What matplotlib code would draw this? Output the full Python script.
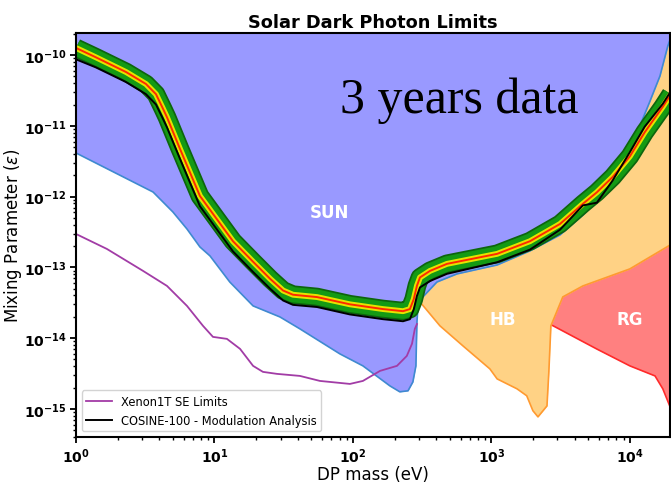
import math
import matplotlib.pyplot as plt
from matplotlib.ticker import FuncFormatter, FixedLocator, LogLocator

# COSINE-100 modulation analysis: expected (median) and observed limits
cosine_mass = [1.0, 1.39, 2.30, 3.20, 3.78, 4.25, 4.54, 5.64, 7.85, 13.6, 19.0, 25.2,
               31.3, 36.9, 55.0, 95.1, 165, 230, 258, 275, 290, 305, 360, 478, 1100,
               1900, 3130, 4580, 5780, 7530, 10000, 12800, 17300, 19800]
cosine_median = [1.26e-10, 9.3e-11, 5.75e-11, 3.9e-11, 2.8e-11, 1.74e-11, 1.32e-11,
                 4.7e-12, 1.02e-12, 2.34e-13, 1.2e-13, 6.9e-14, 4.7e-14, 4.1e-14,
                 3.8e-14, 3.0e-14, 2.57e-14, 2.4e-14, 2.57e-14, 3.55e-14, 5.5e-14,
                 7.2e-14, 8.9e-14, 1.12e-13, 1.55e-13, 2.34e-13, 4.1e-13, 7.9e-13,
                 1.15e-12, 1.9e-12, 3.7e-12, 8.1e-12, 1.86e-11, 2.8e-11]
cosine_observed = [8.7e-11, 6.7e-11, 4.15e-11, 2.8e-11, 2.0e-11, 1.25e-11, 9.5e-12,
                   3.4e-12, 7.3e-13, 1.68e-13, 8.6e-14, 5.0e-14, 3.4e-14, 2.95e-14,
                   2.75e-14, 2.16e-14, 1.85e-14, 1.73e-14, 1.85e-14, 2.55e-14, 3.95e-14,
                   5.2e-14, 6.4e-14, 8.1e-14, 1.18e-13, 1.78e-13, 3.4e-13, 7.5e-13,
                   8.2e-13, 1.7e-12, 4.25e-12, 9.7e-12, 2.05e-11, 3.1e-11]

# Solar bound (SUN)
sun_mass = [1.0, 3.60, 5.01, 6.33, 7.85, 9.28, 12.9, 19.0, 29.7, 41.4, 80.5, 118, 185,
            218, 250, 271, 285, 290, 295, 320, 404, 564, 1100, 1900, 3130, 4580, 6070,
            8050, 10000, 11800, 13900, 16500, 18800, 19800]
sun_eps = [4.13e-12, 1.16e-12, 6.05e-13, 3.48e-13, 1.94e-13, 1.45e-13, 6.2e-14, 2.85e-14,
           1.99e-14, 1.35e-14, 5.98e-15, 4.05e-15, 2.11e-15, 1.74e-15, 1.8e-15, 2.4e-15,
           4.05e-15, 1.69e-14, 2.85e-14, 3.82e-14, 6.2e-14, 8.07e-14, 1.08e-13, 1.71e-13,
           2.87e-13, 5.5e-13, 9.25e-13, 2.62e-12, 5.53e-12, 9.93e-12, 2.17e-11, 5.05e-11,
           1.34e-10, 1.79e-10]

# Xenon1T single-electron limits
xenon_mass = [1.0, 1.67, 3.05, 4.54, 6.33, 8.26, 9.75, 12.3, 15.3, 19.0, 22.4, 28.3,
              41.4, 57.8, 95.1, 118, 157, 208, 245, 267, 280, 290]
xenon_eps = [2.96e-13, 1.82e-13, 8.9e-14, 5.46e-14, 2.85e-14, 1.49e-14, 1.04e-14,
             9.75e-15, 7.04e-15, 4.05e-15, 3.33e-15, 3.12e-15, 2.92e-15, 2.48e-15,
             2.25e-15, 2.48e-15, 3.44e-15, 4.05e-15, 5.6e-15, 8.3e-15, 1.35e-14, 1.58e-14]

# Horizontal branch stars (HB)
hb_mass = [285, 305, 425, 623, 975, 1100, 1530, 1800, 1995, 2170, 2520, 2600, 2690,
           3280, 4580, 10000, 19800]
hb_eps = [5.5e-14, 3.24e-14, 1.49e-14, 7.76e-15, 3.67e-15, 2.65e-15, 1.92e-15, 1.53e-15,
          9.4e-16, 7.7e-16, 1.1e-15, 3.33e-15, 1.49e-14, 3.82e-14, 5.46e-14, 9.5e-14, 2.1e-13]

# Red giants (RG)
rg_mass = [2690, 5780, 10000, 15200, 17300, 19800]
rg_eps = [1.55e-14, 7.0e-15, 4.05e-15, 2.92e-15, 1.92e-15, 1.0e-15]

# region labels
region_names = ['SUN', 'HB', 'RG']
region_mass = [68, 1210, 10000]
region_eps = [6.0e-13, 1.86e-14, 1.86e-14]

# decade ticks shown on the axes
x_ticks = [1, 10, 100, 1000, 10000]
y_ticks = [1e-15, 1e-14, 1e-13, 1e-12, 1e-11, 1e-10]

plt.rcParams['font.family'] = ['DejaVu Sans']

fig = plt.figure(figsize=(6.71, 4.85), dpi=100)
ax = fig.add_axes([0.1133, 0.0969, 0.8852, 0.833])

top = 1e-9
# filled regions, back to front
ax.fill_between(rg_mass, rg_eps, top, color='#ff8080', lw=0, zorder=1)
ax.plot(rg_mass, rg_eps, color='#ff2a2a', lw=1.2, zorder=1.1)
ax.fill_between(hb_mass, hb_eps, top, color='#ffd285', lw=0, zorder=2)
ax.plot(hb_mass, hb_eps, color='#ff9a30', lw=1.2, zorder=2.1)
ax.fill_between(sun_mass, sun_eps, top, color='#9999ff', lw=0, zorder=3)
ax.plot(sun_mass, sun_eps, color='#3f8ad0', lw=1.2, zorder=3.1)

xenon_line, = ax.plot(xenon_mass, xenon_eps, color='#a23ca6', lw=1.3, zorder=4,
                      label='Xenon1T SE Limits')

# COSINE-100 band drawn as stacked thick lines
band = dict(solid_capstyle='butt', solid_joinstyle='round')
ax.plot(cosine_mass, cosine_median, color='#0d650d', lw=13.5, zorder=5, **band)
ax.plot(cosine_mass, cosine_median, color='#149a14', lw=11, zorder=5.1, **band)
ax.plot(cosine_mass, cosine_median, color='#e4e400', lw=4.2, zorder=5.2, **band)
ax.plot(cosine_mass, cosine_median, color='#ff2a00', lw=1.4, zorder=5.3, **band)
cosine_line, = ax.plot(cosine_mass, cosine_observed, color='black', lw=1.4, zorder=5.4,
                       label='COSINE-100 - Modulation Analysis')

ax.set_xscale('log')
ax.set_yscale('log')
ax.set_xlim(1, 1.95e4)
ax.set_ylim(4e-16, 2.05e-10)

fmt = FuncFormatter(lambda v, p: r'$\mathbf{10^{%d}}$' % round(math.log10(v)))
ax.xaxis.set_major_locator(FixedLocator(x_ticks))
ax.yaxis.set_major_locator(FixedLocator(y_ticks))
ax.xaxis.set_major_formatter(fmt)
ax.yaxis.set_major_formatter(fmt)
ax.xaxis.set_minor_locator(LogLocator(base=10, subs=range(2, 10), numticks=20))
ax.yaxis.set_minor_locator(LogLocator(base=10, subs=range(2, 10), numticks=20))
ax.tick_params(axis='both', which='major', labelsize=10, width=1.3, length=4, pad=3)
ax.tick_params(axis='both', which='minor', width=1.0, length=2.5)
for s in ax.spines.values():
    s.set_linewidth(1.5)
    s.set_zorder(10)

ax.set_title('Solar Dark Photon Limits', fontsize=12.8, fontweight='bold', pad=4)
ax.set_xlabel('DP mass (eV)', fontsize=12, labelpad=0)
ax.set_ylabel(r'Mixing Parameter ($\epsilon$)', fontsize=12, labelpad=0)

for name, m, e in zip(region_names, region_mass, region_eps):
    ax.text(m, e, name, color='white', fontsize=12, fontweight='bold',
            ha='center', va='center', zorder=6)
ax.text(0.444, 0.804, '3 years data', transform=ax.transAxes, fontsize=36,
        family='Liberation Serif', ha='left', va='baseline', zorder=6)

leg = ax.legend(handles=[xenon_line, cosine_line], loc='lower left', fontsize=8.3,
                handlelength=2.2, framealpha=0.85)
leg.set_zorder(8)

fig.savefig('out.png', dpi=100)
